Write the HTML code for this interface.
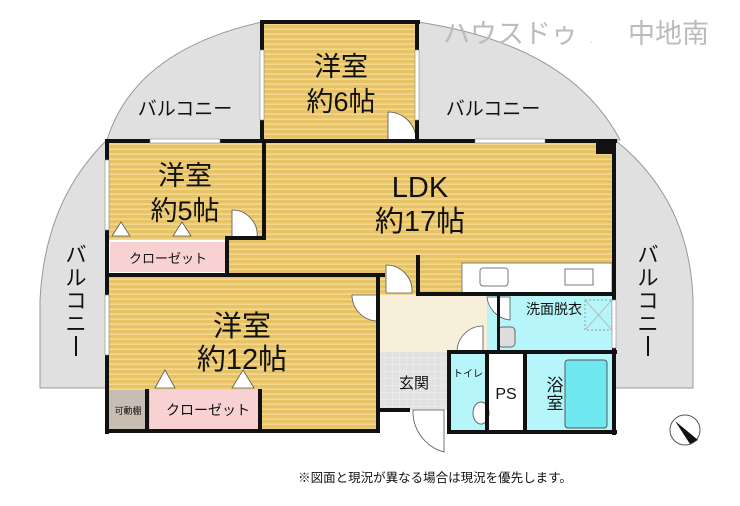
<!DOCTYPE html>
<html><head><meta charset="utf-8"><style>
html,body{margin:0;padding:0;background:#fff;width:740px;height:506px;overflow:hidden}
text{font-family:"Liberation Sans","Noto Sans CJK JP",sans-serif}
</style></head><body>
<svg width="740" height="506" viewBox="0 0 740 506" xmlns="http://www.w3.org/2000/svg">
<defs>
<pattern id="wood" width="8" height="5" patternUnits="userSpaceOnUse">
<rect width="8" height="5" fill="#e8c366"/><rect y="3.5" width="8" height="1.3" fill="#f4dc96"/>
</pattern>
<pattern id="tile" width="7" height="7" patternUnits="userSpaceOnUse">
<rect width="7" height="7" fill="#e2e2e2"/><path d="M0 0H7M0 0V7" stroke="#f2f2f2" stroke-width="1"/>
</pattern>
</defs>
<g fill="#e0e0e0" stroke="#999" stroke-width="1">
<path d="M107 140 Q135 50 262 22 L262 140 Z"/>
<path d="M418 22 Q570 45 620 140 L418 140 Z"/>
<path d="M107 140 Q45 200 40 300 L40 388 L107 388 Z"/>
<path d="M615 140 Q690 200 693 300 L693 388 L615 388 Z"/>
</g>
<rect x="262" y="22" width="156" height="120" fill="url(#wood)"/>
<rect x="107" y="140" width="156" height="100" fill="url(#wood)"/>
<rect x="263" y="140" width="352" height="155" fill="url(#wood)"/>
<rect x="228" y="240" width="40" height="36" fill="url(#wood)"/>
<rect x="107" y="276" width="272" height="156" fill="url(#wood)"/>
<rect x="110" y="242" width="115" height="30" fill="#f8d2d2"/>
<rect x="150" y="390" width="110" height="40" fill="#f8d2d2"/>
<rect x="108" y="390" width="40" height="40" fill="#c8bdb2"/>
<rect x="380" y="295" width="107" height="57" fill="#f7efd9"/>
<rect x="380" y="352" width="67" height="58" fill="url(#tile)"/>
<rect x="487" y="295" width="128" height="57" fill="#b6f6fb"/>
<rect x="449" y="352" width="38" height="80" fill="#b6f6fb"/>
<rect x="487" y="352" width="38" height="80" fill="#fff"/>
<rect x="525" y="352" width="90" height="80" fill="#b6f6fb"/>
<rect x="565" y="360" width="42" height="68" rx="3" fill="#6fe8f2" stroke="#555"/>
<rect x="462" y="263" width="150" height="30" fill="#fff" stroke="#666" stroke-width="0.8"/>
<rect x="480" y="268" width="28" height="18" rx="3" fill="#fff" stroke="#777"/>
<rect x="565" y="269" width="28" height="16" fill="#fff" stroke="#777"/>
<rect x="498" y="327" width="17" height="20" rx="4" fill="#ddd" stroke="#666"/>
<rect x="585" y="300" width="27" height="30" fill="none" stroke="#999" stroke-dasharray="2,2"/>
<path d="M585 300 L612 330 M612 300 L585 330" stroke="#bbb"/>
<ellipse cx="481" cy="413" rx="8" ry="11" fill="#fff" stroke="#666"/>
<g fill="#fff" stroke="#555" stroke-width="0.8">
<path d="M388 140 V112 A28 28 0 0 1 416 140 Z"/>
<path d="M232 238 V210 A25 25 0 0 1 257 238 Z"/>
<path d="M386 293 V265 A26 26 0 0 1 412 293 Z"/>
<path d="M378 295 H352 A26 26 0 0 0 378 321 Z"/>
<path d="M413 410 H444 V452 A42 42 0 0 1 413 410 Z"/>
<path d="M457 352 A26 26 0 0 1 483 326 V352 Z"/>
<path d="M487 297 A26 26 0 0 0 510 320 V297 Z"/>
<path d="M112 236 L121 222 L130 236 Z M173 236 L182 222 L191 236 Z M155 388 L165 370 L175 388 Z M232 388 L243 370 L254 388 Z"/>
</g>
<g fill="#111">
<rect x="260" y="20" width="160" height="4"/>
<rect x="260" y="20" width="4" height="122"/>
<rect x="415" y="20" width="4" height="122"/>
<rect x="105" y="139" width="512" height="4"/>
<rect x="105" y="139" width="4" height="295"/>
<rect x="612" y="139" width="4" height="296"/>
<rect x="262" y="139" width="4" height="101"/>
<rect x="225" y="236" width="40" height="4"/>
<rect x="225" y="238" width="4" height="36"/>
<rect x="105" y="273" width="280" height="4"/>
<rect x="376" y="273" width="4" height="160"/>
<rect x="105" y="429" width="275" height="4"/>
<rect x="145" y="389" width="4" height="42"/>
<rect x="258" y="389" width="4" height="42"/>
<rect x="416" y="255" width="4" height="40"/>
<rect x="416" y="292" width="200" height="4"/>
<rect x="447" y="350" width="170" height="4"/>
<rect x="447" y="350" width="4" height="84"/>
<rect x="447" y="430" width="170" height="4"/>
<rect x="485" y="350" width="4" height="82"/>
<rect x="523" y="350" width="4" height="82"/>
<rect x="497" y="296" width="3" height="56"/>
<rect x="380" y="408" width="30" height="4"/>
<rect x="596" y="140" width="18" height="14"/>
</g>
<g fill="#fff" stroke="#888" stroke-width="0.6">
<rect x="260" y="50" width="4" height="70"/><rect x="415" y="50" width="4" height="70"/>
<rect x="150" y="139" width="70" height="4"/><rect x="475" y="139" width="70" height="4"/>
<rect x="105" y="160" width="4" height="70"/><rect x="105" y="295" width="4" height="60"/>
<rect x="612" y="300" width="4" height="48"/>
</g>
<g fill="#111" text-anchor="middle">
<text x="341" y="76" font-size="27">洋室</text>
<text x="341" y="111" font-size="27">約6帖</text>
<text x="185" y="185" font-size="27">洋室</text>
<text x="185" y="220" font-size="27">約5帖</text>
<text x="420" y="197" font-size="29">LDK</text>
<text x="420" y="231" font-size="29">約17帖</text>
<text x="242" y="336" font-size="29">洋室</text>
<text x="242" y="369" font-size="29">約12帖</text>
<text x="168" y="263" font-size="13">クローゼット</text>
<text x="208" y="415" font-size="14">クローゼット</text>
<text x="128" y="414" font-size="9">可動棚</text>
<text x="414" y="388" font-size="15">玄関</text>
<text x="554" y="314" font-size="14">洗面脱衣</text>
<text x="468" y="377" font-size="10">トイレ</text>
<text x="506" y="399" font-size="16">PS</text>
<text x="555" y="391" font-size="17">浴</text>
<text x="555" y="409" font-size="17">室</text>
<text x="185" y="115" font-size="19">バルコニー</text>
<text x="493" y="115" font-size="19">バルコニー</text>
<text x="435" y="482" font-size="12.5">※図面と現況が異なる場合は現況を優先します。</text>
</g>
<g fill="#111" font-size="21" text-anchor="middle">
<text x="76" y="262">バ</text><text x="76" y="285">ル</text><text x="76" y="308">コ</text><text x="76" y="331">ニ</text>
<text x="648" y="262">バ</text><text x="648" y="285">ル</text><text x="648" y="308">コ</text><text x="648" y="331">ニ</text>
<rect x="75" y="336" width="2" height="20"/><rect x="647" y="336" width="2" height="20"/>
</g>
<text x="443" y="43" font-size="27" fill="#bbb">ハウスドゥ</text>
<text x="590" y="43" font-size="12" fill="#ccc">.</text>
<text x="628" y="43" font-size="27" fill="#bbb">中地南</text>
<circle cx="685" cy="430" r="15" fill="#fff" stroke="#555"/>
<path d="M675 421 L698 440 L690 444 Z" fill="#111"/>
</svg>
</body></html>
